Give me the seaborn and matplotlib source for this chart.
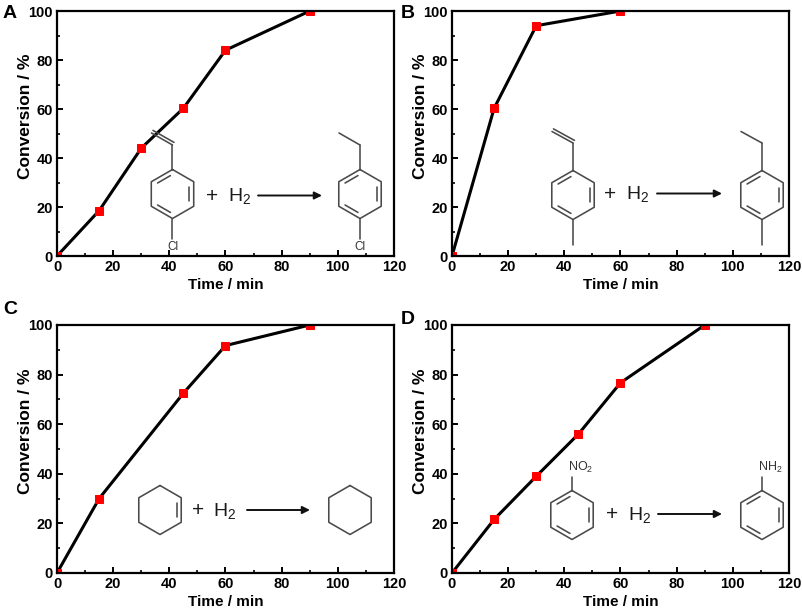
import numpy as np
import pandas as pd
import matplotlib
matplotlib.use("Agg")
import matplotlib.pyplot as plt
from matplotlib.ticker import MultipleLocator
import seaborn as sns

# conversion vs time
time_a = [0, 15, 30, 45, 60, 90]
conv_a = [0, 18.5, 44, 60.3, 84, 100]
time_b = [0, 15, 30, 60]
conv_b = [0, 60.3, 94, 100]
time_c = [0, 15, 45, 60, 90]
conv_c = [0, 30, 72.5, 91.7, 100]
time_d = [0, 15, 30, 45, 60, 90]
conv_d = [0, 21.6, 39, 56, 76.7, 100]
letters = ["A", "B", "C", "D"]

sns.set_style("ticks", {"axes.edgecolor": "black", "text.color": "black",
                        "xtick.color": "black", "ytick.color": "black",
                        "axes.labelcolor": "black"})
plt.rcParams["font.family"] = ["Liberation Sans", "DejaVu Sans"]
plt.rcParams["mathtext.default"] = "regular"

W, H = 803, 611
fig = plt.figure(figsize=(W / 100, H / 100), dpi=100)

# panel boxes in pixels: left, top, right, bottom
boxes = [(57, 11, 394, 256), (452, 11, 789, 256),
         (57, 325, 394, 573), (452, 325, 789, 573)]
series = [(time_a, conv_a), (time_b, conv_b), (time_c, conv_c), (time_d, conv_d)]
letter_pos = [(3, 14), (401, 14), (3, 310), (401, 319)]

for (l, t, r, b), (tx, cy), let, (lx, ly) in zip(boxes, series, letters, letter_pos):
    ax = fig.add_axes([l / W, 1 - b / H, (r - l) / W, (b - t) / H])
    df = pd.DataFrame({"time": tx, "conv": cy})
    sns.lineplot(data=df, x="time", y="conv", ax=ax, color="black", lw=2.2,
                 marker="s", markersize=6, markerfacecolor="red",
                 markeredgecolor="red")
    ax.set_xlim(0, 120)
    ax.set_ylim(0, 100)
    ax.set_xticks(range(0, 121, 20))
    ax.set_yticks(range(0, 101, 20))
    ax.xaxis.set_minor_locator(MultipleLocator(10))
    ax.yaxis.set_minor_locator(MultipleLocator(10))
    ax.tick_params(which="major", direction="in", length=4.5, width=1.4,
                   labelsize=10.5, pad=3)
    ax.tick_params(which="minor", direction="in", length=2.2, width=1.2)
    for lab in ax.get_xticklabels() + ax.get_yticklabels():
        lab.set_fontweight("bold")
    for s in ax.spines.values():
        s.set_linewidth(1.6)
    ax.set_xlabel("Time / min", fontsize=11, fontweight="bold")
    ax.set_ylabel("Conversion / %", fontsize=12.5, fontweight="bold")
    ax.xaxis.set_label_coords(0.5, -29 / (b - t), transform=ax.transAxes)
    ax.xaxis.label.set_va("center")
    ax.yaxis.set_label_coords(-24 / (r - l), 0.57)
    fig.text(lx / W, 1 - ly / H, let, fontsize=14, fontweight="bold",
             ha="left", va="center")

# overlay in pixel coordinates for the reaction schemes
ov = fig.add_axes([0, 0, 1, 1], zorder=5)
ov.set_xlim(0, W)
ov.set_ylim(H, 0)
ov.axis("off")
ov.patch.set_alpha(0)

grey = "#4a4a4a"
slw = 1.15


def bond(p, q, off=0.0):
    p, q = np.array(p, float), np.array(q, float)
    ov.plot([p[0], q[0]], [p[1], q[1]], color=grey, lw=slw, solid_capstyle="round")
    if off:
        d = q - p
        n = np.array([-d[1], d[0]]) / np.hypot(*d) * off
        ov.plot([p[0] + n[0], q[0] + n[0]], [p[1] + n[1], q[1] + n[1]],
                color=grey, lw=slw)


def ring(cx, cy, r=24.5, doubles=(1, 3, 5)):
    ang = np.deg2rad([90, 30, -30, -90, -150, 150])
    xs = cx + r * np.cos(ang)
    ys = cy - r * np.sin(ang)
    ov.plot(np.append(xs, xs[0]), np.append(ys, ys[0]), color=grey, lw=slw)
    for e in doubles:
        i, j = e, (e + 1) % 6
        pi = np.array([cx + 0.8 * (xs[i] - cx), cy + 0.8 * (ys[i] - cy)])
        pj = np.array([cx + 0.8 * (xs[j] - cx), cy + 0.8 * (ys[j] - cy)])
        a = pi + 0.12 * (pj - pi)
        c = pj + 0.12 * (pi - pj)
        ov.plot([a[0], c[0]], [a[1], c[1]], color=grey, lw=slw)


def scheme(x_plus, x_h2, x_a0, x_a1, y):
    ov.text(x_plus, y + 1, "+", fontsize=15, ha="center", va="center", color="#1a1a1a")
    ov.text(x_h2, y + 1, "H$_2$", fontsize=14, ha="center", va="center",
            color="#1a1a1a")
    ov.annotate("", xy=(x_a1, y), xytext=(x_a0, y),
                arrowprops=dict(arrowstyle="-|>", color="#111111", lw=1.4,
                                mutation_scale=11, shrinkA=0, shrinkB=0))


# panel A: 4-chlorostyrene -> 4-chloroethylbenzene
for cx, dbl in [(172.5, 3.0), (360, 0.0)]:
    ring(cx, 194)
    bond((cx, 169.5), (cx, 145))
    bond((cx, 145), (cx - 21, 133), off=dbl)
    bond((cx, 218.5), (cx, 239))
    ov.text(cx, 247, "Cl", fontsize=8.5, ha="center", va="center", color="#333333")
scheme(212, 240, 258, 322, 195.5)

# panel B: 4-methylstyrene -> 4-ethyltoluene
for cx, dbl in [(573, 3.0), (762, 0.0)]:
    ring(cx, 195)
    bond((cx, 170.5), (cx, 143))
    bond((cx, 143), (cx - 21, 131.5), off=dbl)
    bond((cx, 219.5), (cx, 245))
scheme(610, 638, 657, 722, 193.5)

# panel C: cyclohexene -> cyclohexane
ring(160, 510, doubles=(1,))
ring(350, 510, doubles=())
scheme(198, 225, 247, 310, 510)

# panel D: nitrobenzene -> aniline
for cx, lab in [(572, "NO$_2$"), (762, "NH$_2$")]:
    ring(cx, 515)
    bond((cx, 490.5), (cx, 477))
    ov.text(cx - 4, 467, lab, fontsize=9, ha="left", va="center", color="#333333")
scheme(612, 640, 658, 722, 514)

fig.savefig("out.png", dpi=100)
